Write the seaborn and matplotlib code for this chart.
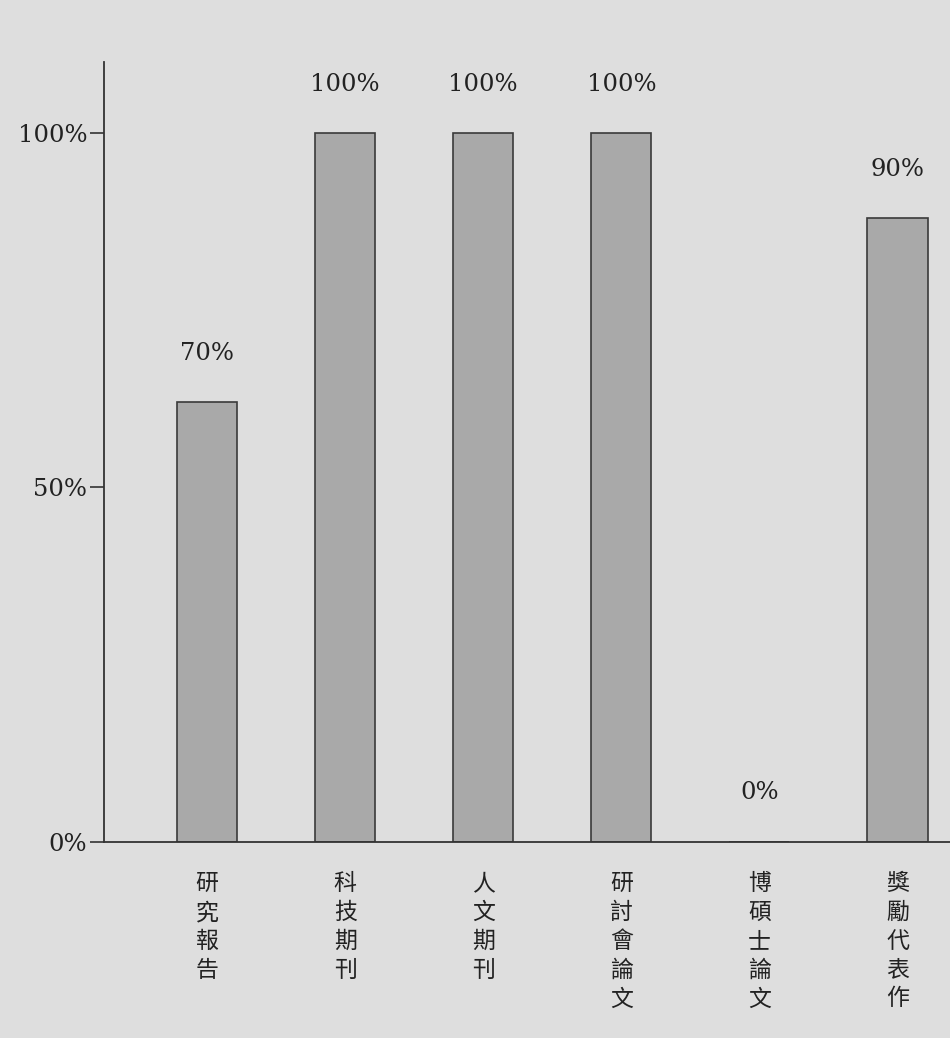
import matplotlib
matplotlib.use("Agg")
import matplotlib.pyplot as plt
import seaborn as sns
import pandas as pd

categories = ["研究報告", "科技期刊", "人文期刊", "研討會論文", "博碩士論文", "獎勵代表作"]
bar_heights = [62, 100, 100, 100, 0, 88]
bar_labels = ["70%", "100%", "100%", "100%", "0%", "90%"]
y_ticks = [0, 50, 100]
y_tick_labels = ["0%", "50%", "100%"]

if __name__ == "__main__":
    sns.set_style("ticks")
    plt.rcParams["font.family"] = ["DejaVu Serif", "Noto Sans CJK TC"]

    df = pd.DataFrame({"category": categories, "value": bar_heights})

    bg = "#dedede"
    fig = plt.figure(figsize=(9.5, 10.38), dpi=100, facecolor=bg)
    ax = fig.add_axes([0.1095, 0.189, 0.8905, 0.751])
    ax.set_facecolor(bg)

    sns.barplot(data=df, x="category", y="value", color="#a9a9a9",
                edgecolor="#3a3a3a", linewidth=1.2, width=0.435,
                saturation=1, ax=ax)

    for i, (h, lab) in enumerate(zip(bar_heights, bar_labels)):
        ax.annotate(lab, (i, h), xytext=(0, 27), textcoords="offset points",
                    ha="center", va="bottom", fontsize=17.5,
                    family=["DejaVu Serif"], color="#222222")

    ax.set_xlim(-0.746, 5.38)
    ax.set_ylim(0, 110)
    ax.set_yticks(y_ticks)
    ax.set_yticklabels(y_tick_labels, fontsize=17.5, color="#222222")
    ax.set_xticks(range(len(categories)))
    ax.set_xticklabels(["\n".join(c) for c in categories], fontsize=16.5,
                       family=["Noto Sans CJK TC"], color="#222222",
                       linespacing=1.32, va="top")
    ax.tick_params(axis="x", length=0, pad=22)
    ax.tick_params(axis="y", length=10, width=1.2, direction="out", color="#333333", pad=2)
    ax.set_xlabel("")
    ax.set_ylabel("")
    sns.despine(ax=ax)
    ax.spines["left"].set_color("#333333")
    ax.spines["bottom"].set_color("#333333")
    ax.spines["left"].set_linewidth(1.3)
    ax.spines["bottom"].set_linewidth(1.3)

    fig.savefig("out.png", dpi=100, facecolor=bg)
